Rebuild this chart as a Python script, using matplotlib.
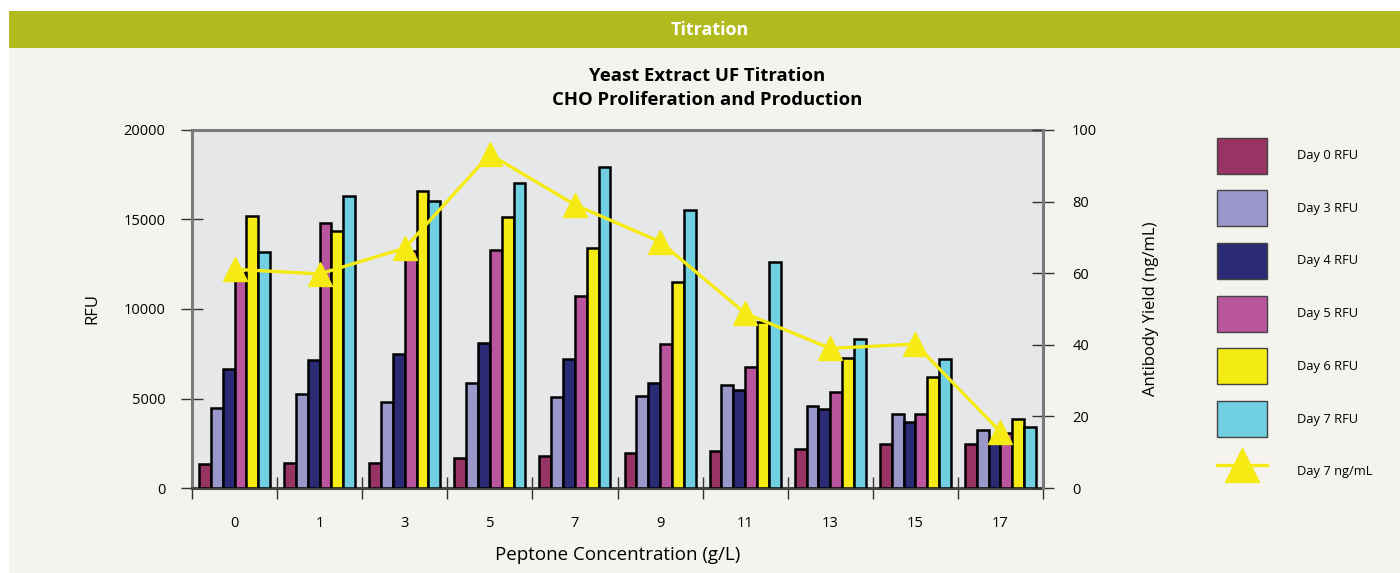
import numpy as np
import matplotlib.pyplot as plt
from matplotlib.patches import Rectangle, Patch
from matplotlib.lines import Line2D

plt.rcParams['font.family'] = ['Open Sans', 'DejaVu Sans']

# data
conc = ["0", "1", "3", "5", "7", "9", "11", "13", "15", "17"]
series = ["Day 0 RFU", "Day 3 RFU", "Day 4 RFU", "Day 5 RFU", "Day 6 RFU", "Day 7 RFU"]
day0 = [1340, 1400, 1400, 1680, 1790, 1970, 2080, 2160, 2460, 2460]
day3 = [4470, 5250, 4790, 5850, 5070, 5140, 5740, 4580, 4120, 3240]
day4 = [6650, 7150, 7470, 8120, 7190, 5880, 5470, 4400, 3710, 2700]
day5 = [12000, 14820, 13250, 13300, 10740, 8040, 6740, 5350, 4120, 3070]
day6 = [15210, 14360, 16600, 15120, 13390, 11490, 9290, 7280, 6200, 3870]
day7 = [13170, 16300, 16030, 17060, 17930, 15530, 12640, 8300, 7190, 3420]
yield_ng = [61.1, 59.8, 67.0, 93.2, 79.1, 68.8, 48.8, 39.0, 40.2, 15.7]

colors = ["#983464", "#9a98cb", "#2b2a74", "#b8559d", "#f6ec15", "#70cfe0"]
line_col = "#f6ea14"

fig = plt.figure(figsize=(14, 5.73), dpi=100, facecolor="white")
# beige page and olive header band
fig.patches.append(Rectangle((9/1400, 0), 1, 1 - 48/573, transform=fig.transFigure,
                             facecolor="#f4f3ee", edgecolor="none", zorder=-10))
fig.patches.append(Rectangle((9/1400, 1 - 48/573), 1, 37/573, transform=fig.transFigure,
                             facecolor="#b2bb1e", edgecolor="none", zorder=-10))
fig.text(710/1400, 1 - 30/573, "Titration", color="white", fontsize=13,
         fontweight="bold", ha="center", va="center")
fig.text(707/1400, 1 - 88/573, "Yeast Extract UF Titration\nCHO Proliferation and Production",
         fontsize=13.3, fontweight="bold", ha="center", va="center", linespacing=1.4)

ax = fig.add_axes([192/1400, 1 - 488/573, (1043-192)/1400, (488-130)/573])
ax.set_facecolor("#e6e7e9")

x = np.arange(len(conc))
w = 0.139
data = [day0, day3, day4, day5, day6, day7]
for i, (vals, c) in enumerate(zip(data, colors)):
    ax.bar(x + (i - 2.5) * w, vals, w, color=c, edgecolor="black", linewidth=1.8,
           label=series[i], zorder=3)

ax.set_xlim(-0.5, 9.5)
ax.set_ylim(0, 20000)
ax.set_yticks([0, 5000, 10000, 15000, 20000])
ax.set_xticks(x)
ax.set_xticklabels(conc, fontsize=10.5)
ax.set_xticks(np.arange(-0.5, 10, 1), minor=True)
ax.tick_params(axis="x", which="major", length=0, pad=20)
ax.tick_params(axis="x", which="minor", direction="inout", length=16, width=1, color="#333333")
ax.tick_params(axis="y", direction="inout", length=16, width=1, color="#333333",
               labelsize=10.5, pad=11)
ax.set_ylabel("RFU", fontsize=12, labelpad=17)
ax.set_xlabel("Peptone Concentration (g/L)", fontsize=13.5, labelpad=11)

for s in ["top", "left"]:
    ax.spines[s].set_color("#7a7a7a")
    ax.spines[s].set_linewidth(2.2)
ax.spines["bottom"].set_color("#444444")
ax.spines["bottom"].set_linewidth(2.2)
ax.spines["right"].set_visible(False)

ax2 = ax.twinx()
ax2.plot(x, yield_ng, color=line_col, linewidth=2.4, marker="^", markersize=17,
         markeredgecolor=line_col, zorder=5)
ax2.set_ylim(0, 100)
ax2.set_yticks([0, 20, 40, 60, 80, 100])
ax2.tick_params(axis="y", direction="inout", length=16, width=1, color="#333333",
                labelsize=10.5, pad=13)
ax2.set_ylabel("Antibody Yield (ng/mL)", fontsize=12, labelpad=33)
for s in ["top", "left", "bottom"]:
    ax2.spines[s].set_visible(False)
ax2.spines["right"].set_color("#7a7a7a")
ax2.spines["right"].set_linewidth(2.2)

handles = [Patch(facecolor=c, edgecolor="#444444", linewidth=1) for c in colors]
handles.append(Line2D([0], [0], color=line_col, linewidth=2.4, marker="^",
                      markersize=24, markeredgecolor=line_col))
labels = series + ["Day 7 ng/mL"]
fig.legend(handles, labels, loc="upper left", bbox_to_anchor=(1205/1400, 1 - 126/573),
           frameon=False, fontsize=9.3, handlelength=3.9, handleheight=3.9,
           labelspacing=1.3, handletextpad=2.3)

fig.savefig("out.png", dpi=100, facecolor=fig.get_facecolor())
